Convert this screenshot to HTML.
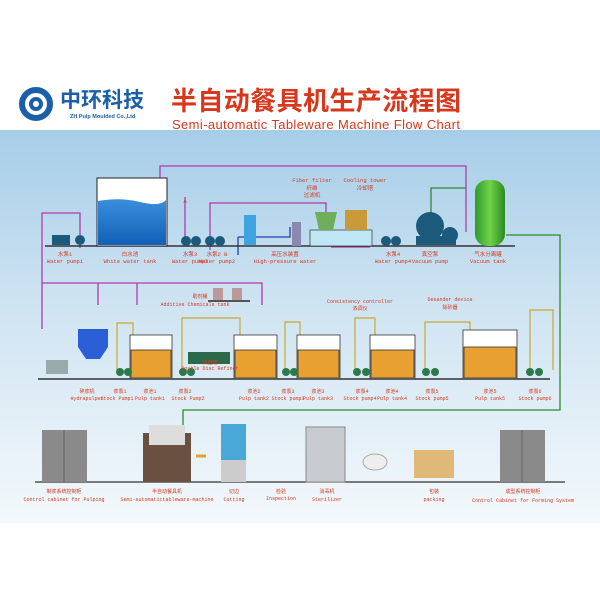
<!DOCTYPE html>
<html><head><meta charset="utf-8"><style>
body{margin:0;width:600px;height:600px;background:#fff;overflow:hidden}
svg{display:block}
</style></head><body>
<svg width="600" height="600" viewBox="0 0 600 600" xmlns="http://www.w3.org/2000/svg" font-family="Liberation Mono, Noto Sans CJK SC, monospace">
<defs>
<linearGradient id="bg" x1="0" y1="0" x2="0" y2="1">
<stop offset="0" stop-color="#a6cde8"/><stop offset="0.45" stop-color="#cfe4f2"/><stop offset="1" stop-color="#f3f8fb"/></linearGradient>
<linearGradient id="g" x1="0" x2="1"><stop offset="0" stop-color="#2f9a2a"/><stop offset="0.5" stop-color="#6fd34a"/><stop offset="1" stop-color="#2b8a22"/></linearGradient>
<linearGradient id="w" x1="0" y1="0" x2="0" y2="1"><stop offset="0" stop-color="#3a8fdc"/><stop offset="1" stop-color="#1060b8"/></linearGradient>
</defs>
<rect x="0" y="130" width="600" height="393" fill="url(#bg)"/>
<!-- header -->
<circle cx="36" cy="104" r="14" fill="none" stroke="#1a5fa8" stroke-width="6"/>
<circle cx="36" cy="104" r="5" fill="none" stroke="#1a5fa8" stroke-width="4"/>
<text x="60" y="107" font-family="Liberation Sans, Noto Sans CJK SC, sans-serif" font-weight="bold" font-size="21" fill="#1a5fa8">中环科技</text>
<text x="70" y="118" font-family="Liberation Sans, sans-serif" font-weight="bold" font-size="5.5" fill="#1a5fa8">ZH Pulp Moulded Co.,Ltd</text>
<text x="171" y="110" font-family="Liberation Sans, Noto Sans CJK SC, sans-serif" font-weight="bold" font-size="26" fill="#d8371c" textLength="290">半自动餐具机生产流程图</text>
<text x="172" y="129" font-family="Liberation Sans, sans-serif" font-size="13" fill="#d8371c" textLength="288">Semi-automatic Tableware Machine Flow Chart</text>

<!-- row1 pipes -->
<g fill="none" stroke-width="1.3">
<polyline points="160,195 160,166 466,166 466,232" stroke="#b23aa8"/>
<polyline points="42,329 42,213 80,213 80,248" stroke="#b23aa8"/>
<polyline points="210,250 210,203 326,203 326,222" stroke="#b23aa8"/>
<polyline points="331,247 370,247" stroke="#b23aa8"/>
<polyline points="98,283 98,305" stroke="#b23aa8"/>
<polyline points="137,283 137,305" stroke="#b23aa8"/>
<polyline points="42,283 262,283 262,305" stroke="#b23aa8"/>
<polyline points="185,197 185,240" stroke="#b23aa8"/>
<polyline points="431,215 431,188 466,188" stroke="#2e8a2e"/>
<polyline points="506,235 560,235 560,410 183,410 183,425" stroke="#2e8a2e"/>
<polyline points="238,237 290,237 290,227" stroke="#1e3fb0"/>
<polyline points="238,237 238,255" stroke="#1e3fb0"/>
</g>
<line x1="45" y1="246" x2="515" y2="246" stroke="#333" stroke-width="1.5"/>
<!-- white water tank -->
<rect x="97" y="178" width="70" height="68" fill="#fff" stroke="#222"/>
<path d="M98 201 Q120 197 140 202 T166 200 V245 H98Z" fill="url(#w)"/>
<!-- pumps row1 -->
<g fill="#1b5a7a">
<rect x="52" y="235" width="18" height="10"/><circle cx="80" cy="240" r="5"/>
<circle cx="186" cy="241" r="5"/><circle cx="196" cy="241" r="5"/>
<circle cx="210" cy="241" r="5"/><circle cx="220" cy="241" r="5"/>
<circle cx="386" cy="241" r="5"/><circle cx="396" cy="241" r="5"/>
<circle cx="430" cy="226" r="14"/><rect x="416" y="236" width="40" height="9"/><circle cx="450" cy="235" r="8"/>
</g>
<rect x="244" y="215" width="12" height="30" fill="#3fa3e0"/>
<rect x="292" y="222" width="9" height="24" fill="#8a8ab0"/>
<rect x="310" y="230" width="62" height="16" fill="#bfe6f5" stroke="#333" stroke-width="0.7"/>
<path d="M315 212 h22 l-4 18 h-14z" fill="#6fae5a"/>
<path d="M345 210 h22 v20 h-22z" fill="#c89a3a"/>
<rect x="475" y="180" width="30" height="66" rx="12" fill="url(#g)"/>
<g font-size="5.5" fill="#d8371c" text-anchor="middle">
<text x="65" y="256">水泵1</text><text x="65" y="263">Water pump1</text>
<text x="130" y="256">白水池</text><text x="130" y="263">White water tank</text>
<text x="190" y="256">水泵3</text><text x="190" y="263">Water pump3</text>
<text x="217" y="256">水泵2  B</text><text x="217" y="263">Water pump2</text>
<text x="285" y="256">高压水装置</text><text x="285" y="263">High-pressure water</text>
<text x="393" y="256">水泵4</text><text x="393" y="263">Water pump4</text>
<text x="430" y="256">真空泵</text><text x="430" y="263">Vacuum pump</text>
<text x="488" y="256">气水分离罐</text><text x="488" y="263">Vacuum tank</text>
<text x="312" y="182">Fiber filter</text><text x="312" y="190">纤维</text><text x="312" y="197">过滤机</text>
<text x="365" y="182">Cooling tower</text><text x="365" y="190">冷却塔</text>
<text x="185" y="203">A</text>
</g>
<!-- row2 -->
<line x1="38" y1="379" x2="550" y2="379" stroke="#333" stroke-width="1.5"/>
<g fill="none" stroke="#c8a830" stroke-width="1.2">
<polyline points="117,370 117,323 133,323 133,335"/>
<polyline points="182,370 182,318 240,318 240,335"/>
<polyline points="285,370 285,322 300,322 300,335"/>
<polyline points="355,370 355,318 375,318 375,335"/>
<polyline points="425,370 425,322 470,322 470,335"/>
<polyline points="530,370 530,310 553,310 553,370"/>
</g>
<g stroke="#333" stroke-width="0.8">
<rect x="130" y="335" width="42" height="44" fill="#fff"/><rect x="131" y="350" width="40" height="28" fill="#e8a030"/>
<rect x="234" y="335" width="43" height="44" fill="#fff"/><rect x="235" y="350" width="41" height="28" fill="#e8a030"/>
<rect x="297" y="335" width="43" height="44" fill="#fff"/><rect x="298" y="350" width="41" height="28" fill="#e8a030"/>
<rect x="370" y="335" width="45" height="44" fill="#fff"/><rect x="371" y="350" width="43" height="28" fill="#e8a030"/>
<rect x="463" y="330" width="54" height="49" fill="#fff"/><rect x="464" y="347" width="52" height="31" fill="#e8a030"/>
</g>
<path d="M78 329 h30 v18 l-8 12 h-14 l-8 -12z" fill="#2a5fd8"/>
<rect x="46" y="360" width="22" height="14" fill="#9aa"/>
<rect x="188" y="352" width="42" height="12" fill="#2a6a4a"/>
<g fill="#2a7a4a">
<circle cx="120" cy="372" r="4"/><circle cx="128" cy="372" r="4"/>
<circle cx="183" cy="372" r="4"/><circle cx="191" cy="372" r="4"/>
<circle cx="286" cy="372" r="4"/><circle cx="294" cy="372" r="4"/>
<circle cx="357" cy="372" r="4"/><circle cx="366" cy="372" r="4"/>
<circle cx="426" cy="372" r="4"/><circle cx="435" cy="372" r="4"/>
<circle cx="530" cy="372" r="4"/><circle cx="539" cy="372" r="4"/>
</g>
<rect x="208" y="300" width="42" height="2" fill="#555"/>
<rect x="213" y="288" width="10" height="12" fill="#b99"/><rect x="232" y="288" width="10" height="12" fill="#b99"/>
<g font-size="5" fill="#d8371c" text-anchor="middle">
<text x="87" y="393">碎浆机</text><text x="87" y="400">Hydrapulper</text>
<text x="120" y="393">浆泵1</text><text x="117" y="400">Stock Pump1</text>
<text x="150" y="393">浆池1</text><text x="150" y="400">Pulp tank1</text>
<text x="185" y="393">浆泵2</text><text x="188" y="400">Stock Pump2</text>
<text x="254" y="393">浆池2</text><text x="254" y="400">Pulp tank2</text>
<text x="288" y="393">浆泵3</text><text x="288" y="400">Stock pump3</text>
<text x="318" y="393">浆池3</text><text x="318" y="400">Pulp tank3</text>
<text x="362" y="393">浆泵4</text><text x="360" y="400">Stock pump4</text>
<text x="392" y="393">浆池4</text><text x="392" y="400">Pulp tank4</text>
<text x="432" y="393">浆泵5</text><text x="432" y="400">Stock pump5</text>
<text x="490" y="393">浆池5</text><text x="490" y="400">Pulp tank5</text>
<text x="535" y="393">浆泵6</text><text x="535" y="400">Stock pump6</text>
<text x="195" y="306">Additive Chemicals tank</text><text x="200" y="298">助剂桶</text>
<text x="210" y="364">双盘磨</text><text x="210" y="370">Double Disc Refiner</text>
<text x="360" y="303">Consistency controller</text><text x="360" y="310">浓调仪</text>
<text x="450" y="301">Desander device</text><text x="450" y="309">除砂器</text>
</g>
<!-- row3 -->
<line x1="35" y1="482" x2="565" y2="482" stroke="#333" stroke-width="1.2"/>
<rect x="42" y="430" width="45" height="52" fill="#8a8a8a"/><line x1="64" y1="430" x2="64" y2="482" stroke="#666"/>
<rect x="500" y="430" width="45" height="52" fill="#8a8a8a"/><line x1="522" y1="430" x2="522" y2="482" stroke="#666"/>
<rect x="143" y="433" width="48" height="49" fill="#6a5040"/>
<rect x="149" y="425" width="36" height="20" fill="#ddd"/>
<rect x="221" y="424" width="25" height="36" fill="#4aa8d8"/><rect x="221" y="460" width="25" height="22" fill="#ccc"/>
<rect x="306" y="427" width="39" height="55" fill="#c8ccd0" stroke="#888"/>
<ellipse cx="375" cy="462" rx="12" ry="8" fill="#eee" stroke="#aaa"/>
<rect x="414" y="450" width="40" height="28" fill="#e0b878"/>
<path d="M196 456 h10" stroke="#e8a030" stroke-width="3"/>
<g font-size="5" fill="#d8371c" text-anchor="middle">
<text x="64" y="493">制浆系统控制柜</text><text x="64" y="501">Control cabinet for Pulping</text>
<text x="167" y="493">半自动餐具机</text><text x="167" y="501">Semi-automatictableware-machine</text>
<text x="234" y="493">切边</text><text x="234" y="501">Cutting</text>
<text x="281" y="493">检验</text><text x="281" y="500">Inspection</text>
<text x="327" y="493">消毒机</text><text x="327" y="501">Sterilizer</text>
<text x="434" y="493">包装</text><text x="434" y="501">packing</text>
<text x="523" y="493">成型系统控制柜</text><text x="523" y="502">Control Cabinet for Forming System</text>
</g>
</svg>
</body></html>
